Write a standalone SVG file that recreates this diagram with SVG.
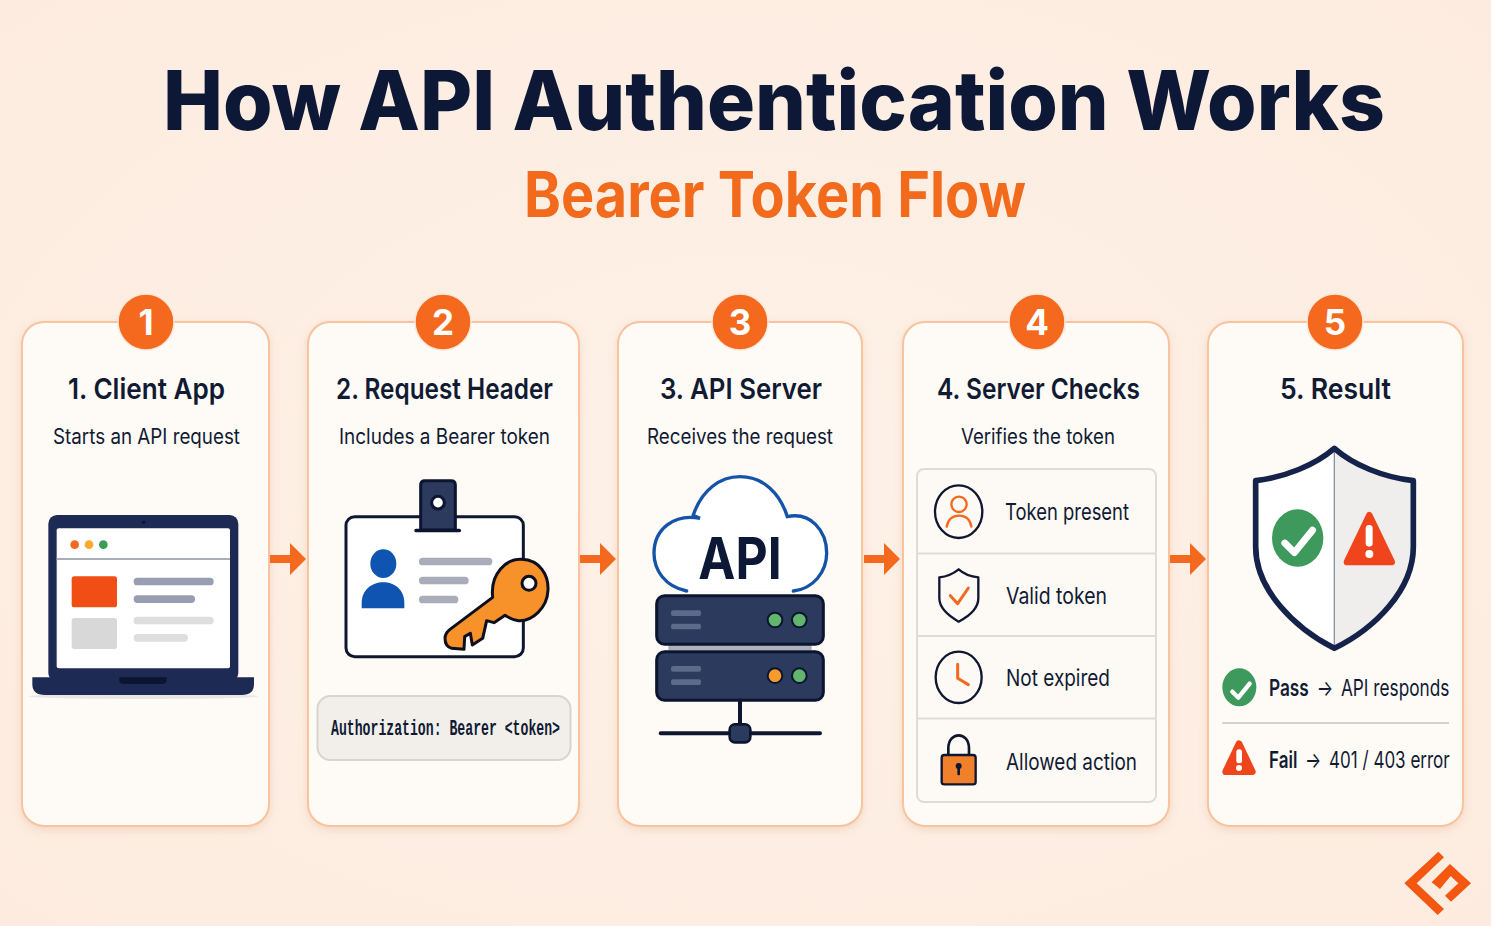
<svg xmlns="http://www.w3.org/2000/svg" width="1491" height="926" viewBox="0 0 1491 926">
<defs>
<radialGradient id="bg" cx="50%" cy="50%" r="75%"><stop offset="0" stop-color="#fdf1e7"/><stop offset="1" stop-color="#fdebdf"/></radialGradient>
<filter id="sh" x="-10%" y="-5%" width="120%" height="110%"><feDropShadow dx="0" dy="3" stdDeviation="4" flood-color="#c98a5c" flood-opacity=".22"/></filter>
<path id="arrow" d="M0-4H20V-16L36 0 20 16V4H0Z" fill="#f4691d"/>
<path id="tick" d="M-26 2-8 20 26-22" fill="none" stroke="#fff" stroke-width="13" stroke-linecap="round" stroke-linejoin="round"/>
</defs>
<style>
text{font-family:Inter,"Noto Sans","Liberation Sans",sans-serif;fill:#111a33}
.card{fill:#fefaf6;stroke:#f8c39d;stroke-width:2;filter:url(#sh)}
.badge{fill:#f4691d;stroke:#fbe7d8;stroke-width:1.500}
.num{fill:#fff;font-weight:700;font-size:35px;text-anchor:middle}
.h{font-weight:600;font-size:29px}
.s{font-size:21px;font-weight:400}
.row{font-size:23px;font-weight:400}
.nv{fill:#2c3a5e;stroke:#0c1530;stroke-width:9;stroke-linejoin:round}
.bar{fill:#5d6a8a}
.ln{fill:none;stroke:#0f1730;stroke-linecap:round;stroke-linejoin:round}
.or{fill:none;stroke:#f4691d;stroke-linecap:round;stroke-linejoin:round}
.div{stroke:#dfdbd6;stroke-width:2}
</style>
<rect width="1491" height="926" fill="url(#bg)"/>
<g id="title">
<text x="163" y="130" font-size="82" font-weight="800" textLength="1222" lengthAdjust="spacingAndGlyphs" style="fill:#0d1836">How API Authentication Works</text>
<text x="524" y="217" font-size="63" font-weight="700" textLength="502" lengthAdjust="spacingAndGlyphs" style="fill:#f26a1b">Bearer Token Flow</text>
</g>
<g id="connectors">
<use href="#arrow" x="270" y="559"/>
<use href="#arrow" x="580" y="559"/>
<use href="#arrow" x="864" y="559"/>
<use href="#arrow" x="1170" y="559"/>
</g>
<g id="node-1">
<rect class="card" x="22" y="322" width="247" height="504" rx="22"/>
<circle class="badge" cx="146" cy="322" r="28"/><text class="num" x="146" y="335">1</text>
<text class="h" x="68" y="399" textLength="157" lengthAdjust="spacingAndGlyphs">1. Client App</text>
<text class="s" x="53" y="444" textLength="187" lengthAdjust="spacingAndGlyphs">Starts an API request</text>
<g transform="translate(20 480) scale(.33333)">
<ellipse cx="370" cy="649" rx="345" ry="8" fill="#e9e6e2"/>
<rect x="85" y="105" width="570" height="500" rx="26" fill="#1c2a54"/>
<circle cx="371" cy="127" r="5" fill="#0c1530"/>
<rect x="110" y="145" width="520" height="420" rx="6" fill="#fff"/>
<circle cx="164" cy="194" r="13" fill="#f26a22"/><circle cx="207" cy="194" r="13" fill="#fbab2b"/><circle cx="250" cy="194" r="13" fill="#3b9b57"/>
<rect x="110" y="234" width="520" height="6" fill="#a8adb8"/>
<rect x="155" y="289" width="136" height="93" rx="8" fill="#f04e14"/>
<rect x="155" y="414" width="136" height="93" rx="8" fill="#d8d8d8"/>
<rect x="341" y="293" width="240" height="23" rx="11" fill="#979eb1"/>
<rect x="341" y="346" width="184" height="23" rx="11" fill="#979eb1"/>
<rect x="341" y="410" width="240" height="23" rx="11" fill="#dededf"/>
<rect x="341" y="462" width="163" height="23" rx="11" fill="#dededf"/>
<path d="M37 592H702V612Q702 645 665 645H75Q37 645 37 612Z" fill="#1c2a54"/>
<path d="M298 592H440V600Q440 612 425 612H313Q298 612 298 600Z" fill="#0c1530"/>
</g>
</g>
<g id="node-2">
<rect class="card" x="308" y="322" width="271" height="504" rx="22"/>
<circle class="badge" cx="443" cy="322" r="28"/><text class="num" x="443" y="335">2</text>
<text class="h" x="336" y="399" textLength="217" lengthAdjust="spacingAndGlyphs">2. Request Header</text>
<text class="s" x="339" y="444" textLength="211" lengthAdjust="spacingAndGlyphs">Includes a Bearer token</text>
<g transform="translate(310 470) scale(.33333)">
<rect x="108" y="140" width="532" height="420" rx="26" fill="#fff" stroke="#0f1730" stroke-width="9"/>
<path d="M332 180V45Q332 32 345 32H423Q436 32 436 45V180Z" class="nv"/>
<rect x="313" y="176" width="140" height="11" rx="5" fill="#0c1530"/>
<circle cx="384" cy="98" r="19" fill="#fff" stroke="#0c1530" stroke-width="9"/>
<ellipse cx="220" cy="281" rx="39" ry="43" fill="#0f54b0"/>
<path d="M155 415V400C155 360 185 337 220 337S283 360 283 400V415Z" fill="#0f54b0"/>
<rect x="327" y="263" width="220" height="23" rx="11" fill="#a9adb9"/>
<rect x="327" y="320" width="149" height="23" rx="11" fill="#a9adb9"/>
<rect x="327" y="377" width="118" height="23" rx="11" fill="#a9adb9"/>
<path d="M548 382C540 310 590 265 635 268 690 270 716 315 714 360 712 415 665 455 625 452 605 450 592 440 585 436L552 458 530 452 518 505 487 525 481 490 464 500 462 538 425 535Q405 530 405 505 405 490 420 478Z" fill="#f7912a" stroke="#0c0f1e" stroke-width="9" stroke-linejoin="round"/>
<circle cx="657" cy="340" r="21" fill="#fff" stroke="#0c0f1e" stroke-width="9"/>
</g>
<rect x="317.500" y="696" width="253" height="64" rx="13" fill="#f2efeb" stroke="#d8d5d1" stroke-width="2"/>
<text x="331" y="735" font-size="22" font-weight="700" textLength="229" lengthAdjust="spacingAndGlyphs" style="font-family:'Liberation Mono',monospace">Authorization: Bearer &lt;token&gt;</text>
</g>
<g id="node-3">
<rect class="card" x="618" y="322" width="244" height="504" rx="22"/>
<circle class="badge" cx="740" cy="322" r="28"/><text class="num" x="740" y="335">3</text>
<text class="h" x="660" y="399" textLength="162" lengthAdjust="spacingAndGlyphs">3. API Server</text>
<text class="s" x="647" y="444" textLength="186" lengthAdjust="spacingAndGlyphs">Receives the request</text>
<g transform="translate(630 465) scale(.33333)">
<path d="M170 378C105 365 72 315 72 265 72 190 135 145 210 160 185 150 190 150 190 150 215 75 270 35 330 35 400 35 450 85 472 155 540 140 590 195 590 265 590 320 550 372 490 378" fill="#fff" stroke="#1553a8" stroke-width="10" stroke-linecap="round"/>
<text x="205" y="343" font-size="172" font-weight="700" textLength="250" lengthAdjust="spacingAndGlyphs" style="fill:#0d1836">API</text>
<rect x="115" y="540" width="430" height="16" fill="#aeb2bf"/>
<rect class="nv" x="80" y="392" width="500" height="146" rx="24"/>
<rect class="nv" x="80" y="560" width="500" height="146" rx="24"/>
<rect class="bar" x="123" y="436" width="90" height="17" rx="6"/><rect class="bar" x="123" y="476" width="90" height="17" rx="6"/>
<rect class="bar" x="123" y="603" width="90" height="17" rx="6"/><rect class="bar" x="123" y="643" width="90" height="17" rx="6"/>
<circle cx="435" cy="465" r="22" fill="#62b56d" stroke="#0c1530" stroke-width="6"/><circle cx="508" cy="465" r="22" fill="#62b56d" stroke="#0c1530" stroke-width="6"/>
<circle cx="435" cy="632" r="22" fill="#f79b2c" stroke="#0c1530" stroke-width="6"/><circle cx="508" cy="632" r="22" fill="#62b56d" stroke="#0c1530" stroke-width="6"/>
<path class="ln" stroke-width="12" d="M330 706V780M92 805H570"/>
<rect x="299" y="778" width="62" height="54" rx="16" fill="#2c3a5e" stroke="#0c1530" stroke-width="8"/>
</g>
</g>
<g id="node-4">
<rect class="card" x="903" y="322" width="266" height="504" rx="22"/>
<circle class="badge" cx="1037" cy="322" r="28"/><text class="num" x="1037" y="335">4</text>
<text class="h" x="937" y="399" textLength="203" lengthAdjust="spacingAndGlyphs">4. Server Checks</text>
<text class="s" x="961" y="444" textLength="154" lengthAdjust="spacingAndGlyphs">Verifies the token</text>
<rect x="917" y="469" width="239" height="333" rx="7" fill="#fdf9f5" stroke="#dfdbd6" stroke-width="2"/>
<path class="div" d="M917 553.500H1156M917 636H1156M917 718.500H1156"/>
<g transform="translate(905 460) scale(.33333)">
<ellipse cx="161" cy="155" rx="71" ry="79" fill="none" stroke="#0f1730" stroke-width="7"/>
<circle cx="162" cy="133" r="23" class="or" stroke-width="7"/>
<path class="or" stroke-width="7" d="M125 200C130 175 145 167 162 167S195 175 199 200"/>
<path class="ln" stroke-width="7" d="M161 328C140 345 125 350 103 352V415C103 445 135 470 161 485 190 470 220 445 220 415V352C197 350 180 345 161 328Z"/>
<path class="or" stroke-width="9" d="M136 407 158 431 190 384"/>
<ellipse cx="161" cy="652" rx="69" ry="77" fill="none" stroke="#0f1730" stroke-width="7"/>
<path class="or" stroke-width="9" d="M158 613V655L190 674"/>
<path class="ln" stroke-width="8" d="M130 885V865C130 840 145 826 161 826S192 840 192 865V885"/>
<rect x="110" y="885" width="102" height="88" rx="8" fill="#f0802b" stroke="#0f1730" stroke-width="7"/>
<circle cx="161" cy="918" r="9" fill="#0f1730"/><rect x="157" y="920" width="8" height="26" rx="3" fill="#0f1730"/>
</g>
<text class="row" x="1005" y="520" textLength="124" lengthAdjust="spacingAndGlyphs">Token present</text>
<text class="row" x="1006" y="604" textLength="101" lengthAdjust="spacingAndGlyphs">Valid token</text>
<text class="row" x="1006" y="686" textLength="104" lengthAdjust="spacingAndGlyphs">Not expired</text>
<text class="row" x="1006" y="770" textLength="131" lengthAdjust="spacingAndGlyphs">Allowed action</text>
</g>
<g id="node-5">
<rect class="card" x="1208" y="322" width="255" height="504" rx="22"/>
<circle class="badge" cx="1335" cy="322" r="28"/><text class="num" x="1335" y="335">5</text>
<text class="h" x="1280" y="399" textLength="111" lengthAdjust="spacingAndGlyphs">5. Result</text>
<g transform="translate(1205 440) scale(.33333)">
<path d="M388 25C330 75 240 112 152 122V320C152 450 270 565 388 625 510 565 625 450 625 320V122C535 112 445 75 388 25Z" fill="#fff"/>
<path d="M388 25C445 75 535 112 625 122V320C625 450 510 565 388 625Z" fill="#f0eeec"/>
<path d="M388 25V625" stroke="#8d92a0" stroke-width="4"/>
<path d="M388 25C330 75 240 112 152 122V320C152 450 270 565 388 625 510 565 625 450 625 320V122C535 112 445 75 388 25Z" fill="none" stroke="#15224a" stroke-width="17" stroke-linejoin="round"/>
<ellipse cx="278" cy="294" rx="77" ry="86" fill="#3e9a5c"/>
<use href="#tick" transform="translate(281 306) scale(1.6)"/>
<path d="M493 226 560 366H426Z" fill="#f0451c" stroke="#f0451c" stroke-width="20" stroke-linejoin="round"/>
<rect x="482" y="255" width="21" height="65" rx="10" fill="#fff"/><circle cx="493" cy="342" r="12" fill="#fff"/>
<ellipse cx="103" cy="742" rx="51" ry="57" fill="#3e9a5c"/>
<use href="#tick" transform="translate(108 753)"/>
<path d="M52 849H732" stroke="#d4d1cd" stroke-width="6"/>
<path d="M102 911 142 995H62Z" fill="#f0451c" stroke="#f0451c" stroke-width="20" stroke-linejoin="round"/>
<rect x="94" y="928" width="17" height="42" rx="8" fill="#fff"/><circle cx="102" cy="984" r="9" fill="#fff"/>
</g>
<text class="row" transform="translate(1269 696) scale(.75 1)" font-size="22"><tspan font-weight="600">Pass</tspan> <tspan dx="4">→</tspan> <tspan dx="4">API responds</tspan></text>
<text class="row" transform="translate(1269 768) scale(.74 1)" font-size="22"><tspan font-weight="600">Fail</tspan> <tspan dx="4">→</tspan> <tspan dx="4">401 / 403 error</tspan></text>
</g>
<g id="logo" transform="translate(1390 840) scale(.33333)">
<path d="M145 35 162 52 80 130 162 207 143 225 43 130Z" fill="#f4570f"/>
<path d="M180 72 243 130 183 185 165 167 205 130 182 108 150 147 125 127Z" fill="#f4570f"/>
</g>
</svg>
